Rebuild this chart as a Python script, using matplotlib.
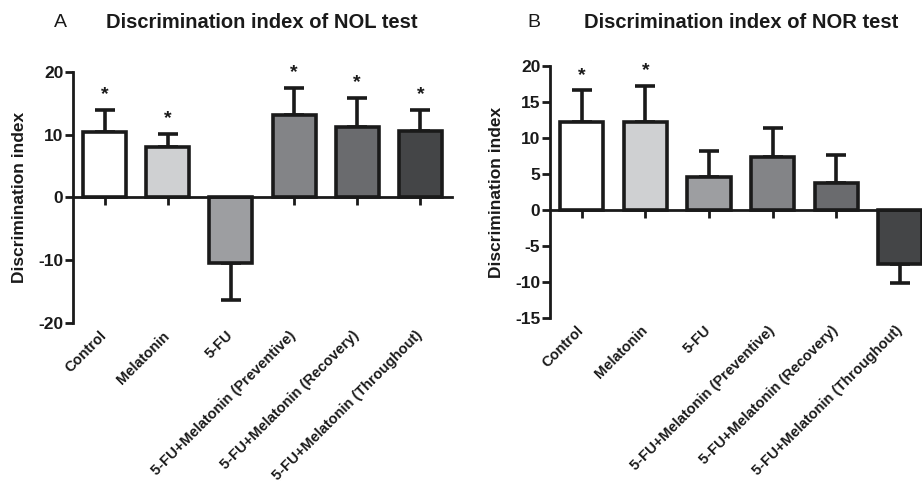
from matplotlib import pyplot as plt
import numpy as np

plt.rcParams['font.family'] = ['Liberation Sans', 'DejaVu Sans']
plt.rcParams['axes.unicode_minus'] = False

groups = ['Control', 'Melatonin', '5-FU', '5-FU+Melatonin (Preventive)',
          '5-FU+Melatonin (Recovery)', '5-FU+Melatonin (Throughout)']
bar_colors = ['#ffffff', '#cfd0d2', '#9d9ea1', '#838487', '#6a6b6e', '#444547']

# NOL test (panel A)
nol_mean = [10.4, 8.0, -10.4, 13.1, 11.2, 10.6]
nol_sem = [3.5, 2.1, 6.0, 4.3, 4.6, 3.3]
nol_sig = [True, True, False, True, True, True]

# NOR test (panel B)
nor_mean = [12.2, 12.2, 4.6, 7.3, 3.7, -7.5]
nor_sem = [4.4, 5.0, 3.6, 4.1, 3.9, 2.7]
nor_sig = [True, True, False, False, False, False]


def draw_panel(ax, means, sems, sig, ylim, yticks):
    x = np.arange(len(groups))
    means = np.array(means)
    sems = np.array(sems)
    ax.bar(x, means, width=0.68, color=bar_colors, edgecolor='#1a1a1a',
           linewidth=2.6, zorder=2)
    # one-sided error bars (away from zero)
    lower = np.where(means < 0, sems, 0)
    upper = np.where(means >= 0, sems, 0)
    ax.errorbar(x, means, yerr=[lower, upper], fmt='none', ecolor='#1a1a1a',
                elinewidth=2.6, capsize=7, capthick=2.6, zorder=1)
    for xi, m, s, flag in zip(x, means, sems, sig):
        if flag:
            ax.annotate('*', (xi, m + s), xytext=(0, 11), textcoords='offset points',
                        ha='center', va='center', fontsize=14, fontweight='bold',
                        color='#1a1a1a')

    ax.set_xlim(-0.5, len(groups) - 0.5)
    ax.set_ylim(*ylim)
    ax.set_yticks(yticks)
    ax.tick_params(axis='y', direction='out', length=6, width=2, colors='#1a1a1a',
                   labelsize=12.5, pad=1)
    for lab in ax.get_yticklabels():
        lab.set_fontweight('bold')

    for side in ['top', 'right']:
        ax.spines[side].set_visible(False)
    ax.spines['left'].set_linewidth(2)
    ax.spines['left'].set_color('#1a1a1a')
    ax.spines['bottom'].set_position(('data', 0))
    ax.spines['bottom'].set_linewidth(2)
    ax.spines['bottom'].set_color('#1a1a1a')
    ax.set_xticks(x)
    ax.tick_params(axis='x', direction='out', length=6, width=2, colors='#1a1a1a',
                   labelbottom=False)

    # category labels at the bottom of the axes
    sec = ax.secondary_xaxis(0)
    sec.set_xticks(x - 0.08)
    sec.set_xticklabels(groups, rotation=45, ha='right', rotation_mode='anchor',
                        fontsize=10.5, fontweight='bold', color='#1a1a1a')
    sec.tick_params(length=0, pad=4)
    sec.spines['bottom'].set_visible(False)

    ax.set_ylabel('Discrimination index', fontsize=12.5, fontweight='bold',
                  color='#1a1a1a', labelpad=8)


fig = plt.figure(figsize=(9.22, 4.92), dpi=100)
ax_a = fig.add_axes([0.0792, 0.3435, 0.411, 0.5102])
ax_b = fig.add_axes([0.5965, 0.3537, 0.4143, 0.5122])

draw_panel(ax_a, nol_mean, nol_sem, nol_sig, (-20, 20), [-20, -10, 0, 10, 20])
draw_panel(ax_b, nor_mean, nor_sem, nor_sig, (-15, 20), [-15, -10, -5, 0, 5, 10, 15, 20])

fig.text(0.058, 0.955, 'A', fontsize=14, color='#1a1a1a', va='center')
fig.text(0.284, 0.955, 'Discrimination index of NOL test', fontsize=14.5,
         fontweight='bold', color='#1a1a1a', ha='center', va='center')
fig.text(0.572, 0.955, 'B', fontsize=14, color='#1a1a1a', va='center')
fig.text(0.804, 0.955, 'Discrimination index of NOR test', fontsize=14.5,
         fontweight='bold', color='#1a1a1a', ha='center', va='center')

plt.savefig('out.png', dpi=100)
